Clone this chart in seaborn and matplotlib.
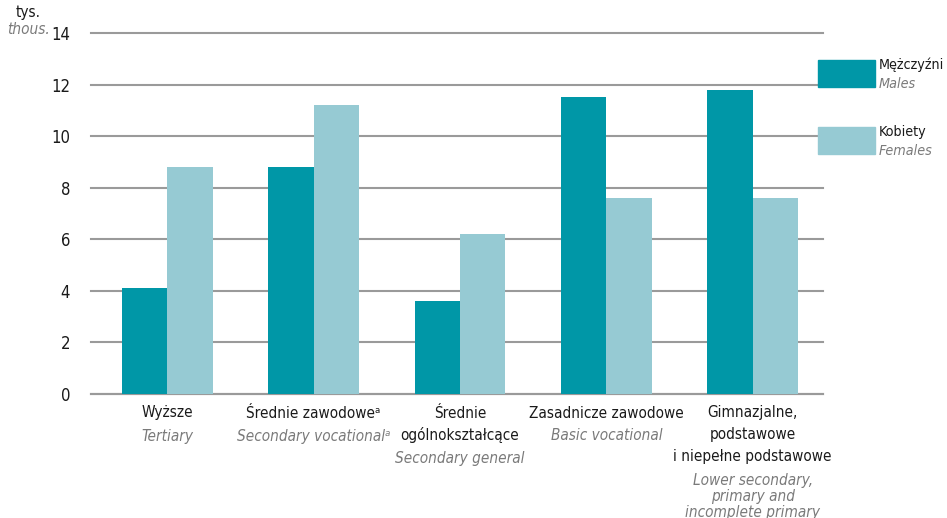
import matplotlib
matplotlib.use("Agg")
import matplotlib.pyplot as plt
import matplotlib.patches as mpatches
import matplotlib.transforms as mtransforms
import pandas as pd
import seaborn as sns

# Data
categories_pl = [["Wyższe"], ["Średnie zawodoweᵃ"], ["Średnie", "ogólnokształcące"],
                 ["Zasadnicze zawodowe"], ["Gimnazjalne,", "podstawowe", "i niepełne podstawowe"]]
categories_en = [["Tertiary"], ["Secondary vocationalᵃ"], ["Secondary general"],
                 ["Basic vocational"], ["Lower secondary,", "primary and", "incomplete primary"]]
males = [4.1, 8.8, 3.6, 11.5, 11.8]
females = [8.8, 11.2, 6.2, 7.6, 7.6]
series_pl = ["Mężczyźni", "Kobiety"]
series_en = ["Males", "Females"]
yticks = [0, 2, 4, 6, 8, 10, 12, 14]

colors = ["#0097a7", "#96cad3"]
dark = "#1a1a1a"
grey_txt = "#7a7a7a"

plt.rcParams["font.family"] = ["DejaVu Sans"]
plt.rcParams["font.stretch"] = "condensed"
fs = 11

df = pd.DataFrame({
    "cat": list(range(5)) * 2,
    "value": males + females,
    "sex": [series_pl[0]] * 5 + [series_pl[1]] * 5,
})

W, H = 947, 518
fig = plt.figure(figsize=(9.47, 5.18), dpi=100)
ax = fig.add_axes([91 / W, 1 - 394 / H, (823 - 91) / W, (394 - 33) / H])

sns.barplot(data=df, x="cat", y="value", hue="sex", palette=colors,
            width=0.62, saturation=1, ax=ax, legend=False, zorder=3)

ax.set_ylim(0, 14)
ax.set_xlim(-0.52, 4.48)
ax.set_yticks(yticks)
ax.set_yticklabels([str(t) for t in yticks], fontsize=12, color=dark)
ax.yaxis.grid(True, color="#9a9a9a", linewidth=1.5, zorder=0)
for gl in ax.get_ygridlines():
    gl.set_clip_on(False)
ax.set_axisbelow(True)
for s in ["top", "right", "left"]:
    ax.spines[s].set_visible(False)
ax.spines["bottom"].set_color("#9a9a9a")
ax.spines["bottom"].set_linewidth(1.5)
ax.tick_params(axis="y", length=0, pad=15)
ax.tick_params(axis="x", length=0)
ax.set_xticks(range(5))
ax.set_xticklabels([])
ax.set_xlabel("")
ax.set_ylabel("")

# category labels, placed line by line (pixel rows from the top)
tr = mtransforms.blended_transform_factory(ax.transData, fig.transFigure)
for i in range(5):
    y = 413
    for line in categories_pl[i]:
        fig.text(i, 1 - y / H, line, transform=tr, ha="center", va="center",
                 fontsize=fs, color=dark)
        y += 22
    y += 1
    for line in categories_en[i]:
        fig.text(i, 1 - y / H, line, transform=tr, ha="center", va="center",
                 fontsize=fs, color=grey_txt, style="italic")
        y += 16

# unit labels
fig.text(28 / W, 1 - 13 / H, "tys.", ha="center", va="center", fontsize=fs, color=dark)
fig.text(28 / W, 1 - 30 / H, "thous.", ha="center", va="center", fontsize=fs,
         color=grey_txt, style="italic")

# legend
leg_y = [(60, 87), (127, 154)]
for k in range(2):
    y0, y1 = leg_y[k]
    fig.add_artist(mpatches.Rectangle((818 / W, 1 - y1 / H), 57 / W, (y1 - y0) / H,
                                      transform=fig.transFigure, color=colors[k]))
    fig.text(879 / W, 1 - (y0 + 5) / H, series_pl[k], ha="left", va="center",
             fontsize=10.3, color=dark)
    fig.text(879 / W, 1 - (y0 + 24) / H, series_en[k], ha="left", va="center",
             fontsize=10.3, color=grey_txt, style="italic")

fig.savefig("out.png", dpi=100)
